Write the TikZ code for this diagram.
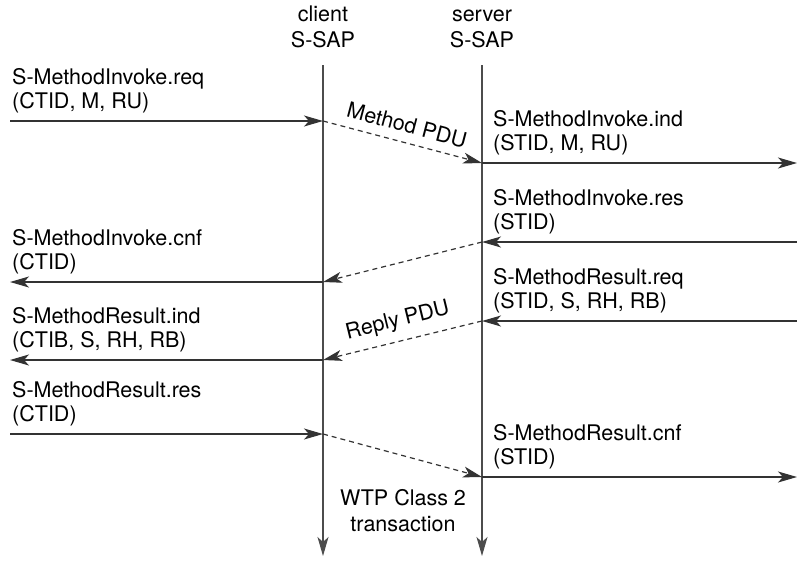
\documentclass[tikz,border=0pt]{standalone}
\usepackage{fontspec}
\setmainfont{TeX Gyre Heros}
\usetikzlibrary{arrows.meta}

\begin{document}
\begin{tikzpicture}[
    x=1pt, y=-1pt,
    life/.style={draw=black!70, line width=1.3pt, -{Stealth[length=19pt, width=11pt, inset=5pt]}},
    msg/.style={draw=black!80, line width=1.2pt, -{Stealth[length=19pt, width=11pt, inset=5pt]}},
    pdu/.style={msg, dashed, dash pattern=on 5pt off 4pt},
    lbl/.style={anchor=south west, inner sep=0pt, align=left,
                font=\fontsize{21.5}{24}\selectfont},
    hdr/.style={anchor=south, inner sep=0pt, align=center,
                font=\fontsize{21.5}{26}\selectfont},
    pdulbl/.style={sloped, above=9pt, inner sep=0pt,
                font=\fontsize{21.5}{24}\selectfont}
  ]
    \useasboundingbox (0,0) rectangle (797,560);

    \coordinate (cTop) at (323,65);
    \coordinate (cBot) at (323,556);
    \coordinate (sTop) at (482,65);
    \coordinate (sBot) at (482,556);

    \coordinate (c1) at (323,121);
    \coordinate (s1) at (482,163);
    \coordinate (s2) at (482,242);
    \coordinate (c2) at (323,282);
    \coordinate (s3) at (482,321);
    \coordinate (c3) at (323,360);
    \coordinate (c4) at (323,434);
    \coordinate (s4) at (482,477);

    \coordinate (l1) at (10,121);
    \coordinate (l2) at (10,282);
    \coordinate (l3) at (10,360);
    \coordinate (l4) at (10,434);
    \coordinate (r1) at (797,163);
    \coordinate (r2) at (797,242);
    \coordinate (r3) at (797,321);
    \coordinate (r4) at (797,477);

    \node[hdr] (hdrClient) at (323,48) {client\\S-SAP};
    \node[hdr] (hdrServer) at (482,48) {server\\S-SAP};

    \draw[life] (cTop) -- (cBot);
    \draw[life] (sTop) -- (sBot);

    \node[lbl] (reqInv) at (12,113.5) {S-MethodInvoke.req\\(CTID, M, RU)};
    \node[lbl] (indInv) at (493,155.5) {S-MethodInvoke.ind\\(STID, M, RU)};
    \node[lbl] (resInv) at (493,234.5) {S-MethodInvoke.res\\(STID)};
    \node[lbl] (cnfInv) at (12,274.5) {S-MethodInvoke.cnf\\(CTID)};
    \node[lbl] (reqRes) at (493,313.5) {S-MethodResult.req\\(STID, S, RH, RB)};
    \node[lbl] (indRes) at (12,352.5) {S-MethodResult.ind\\(CTIB, S, RH, RB)};
    \node[lbl] (resRes) at (12,426.5) {S-MethodResult.res\\(CTID)};
    \node[lbl] (cnfRes) at (493,469.5) {S-MethodResult.cnf\\(STID)};

    \draw[msg] (l1) -- (c1);
    \draw[pdu] (c1) -- node[pdulbl] (methodPdu) {Method PDU} (s1);
    \draw[msg] (s1) -- (r1);
    \draw[msg] (r2) -- (s2);
    \draw[pdu] (s2) -- (c2);
    \draw[msg] (c2) -- (l2);
    \draw[msg] (r3) -- (s3);
    \draw[pdu] (s3) -- node[pdulbl] (replyPdu) {Reply PDU} (c3);
    \draw[msg] (c3) -- (l3);
    \draw[msg] (l4) -- (c4);
    \draw[pdu] (c4) -- (s4);
    \draw[msg] (s4) -- (r4);

    \node[hdr] (wtpTxt) at (403,532) {WTP Class 2\\transaction};
  \end{tikzpicture}
\end{document}
